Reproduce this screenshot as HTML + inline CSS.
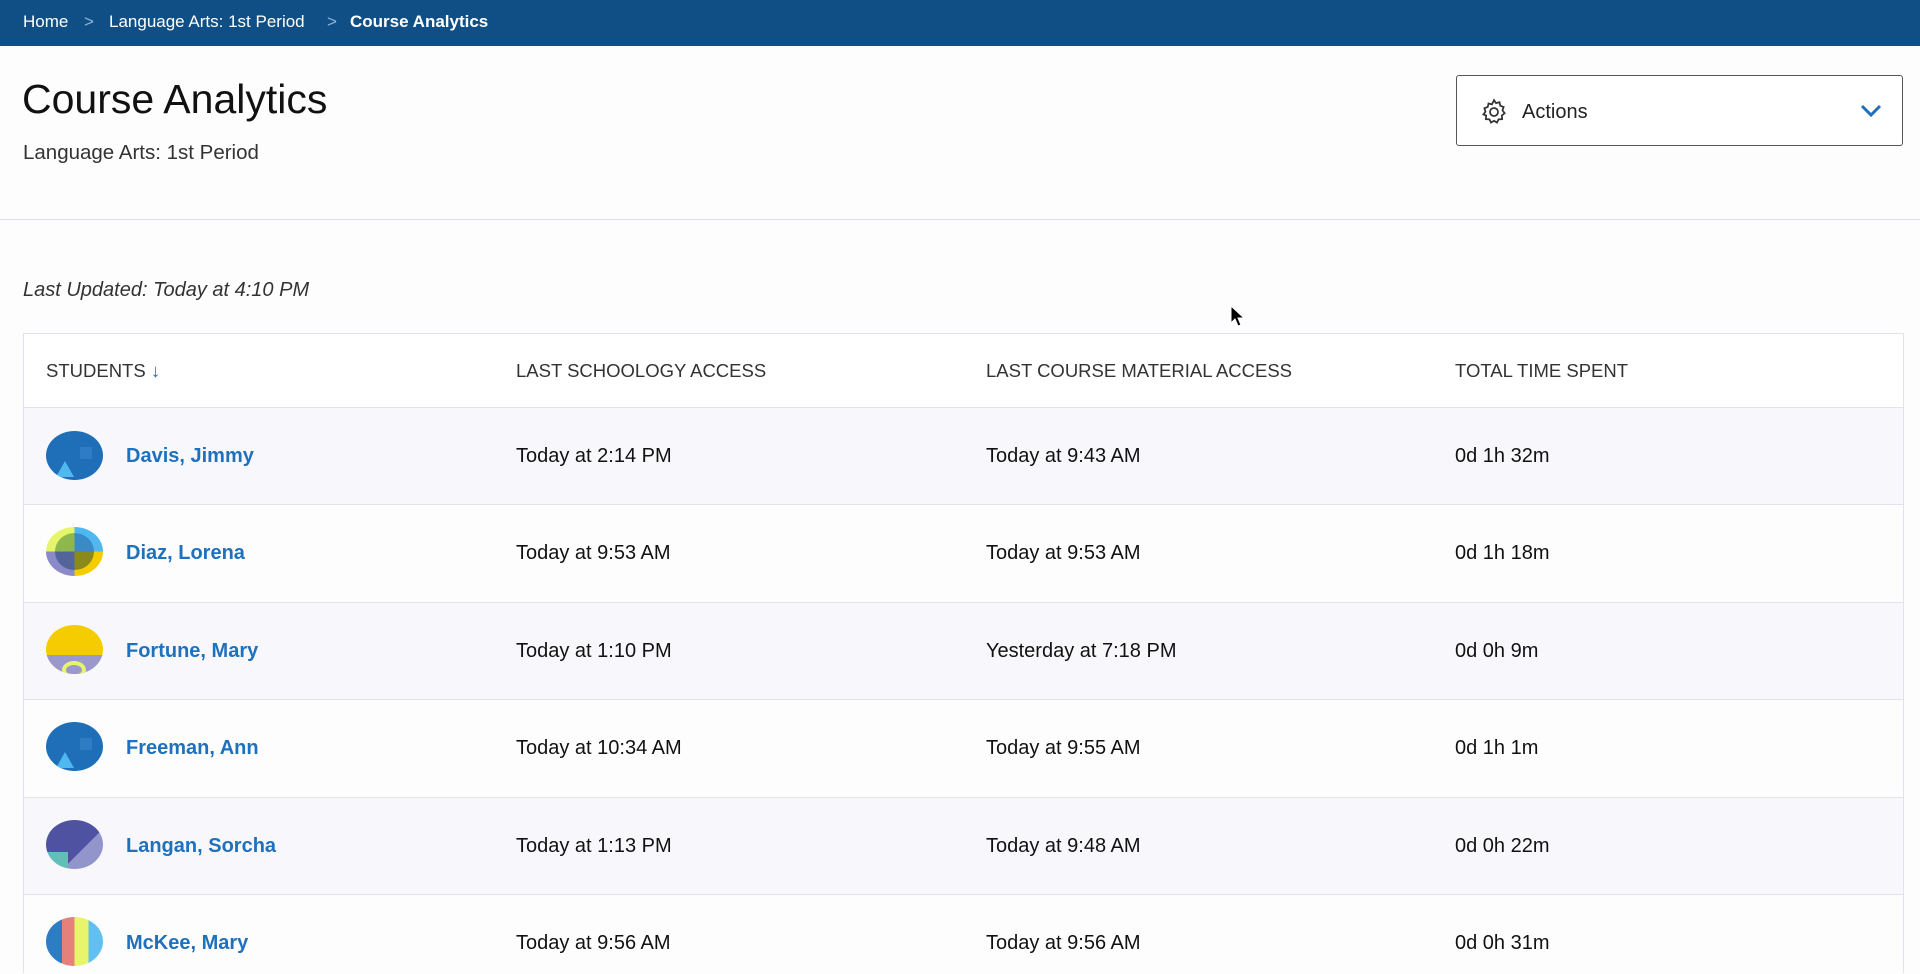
<!DOCTYPE html>
<html><head><meta charset="utf-8"><style>
*{margin:0;padding:0;box-sizing:border-box}
body{width:1920px;height:966px;overflow:hidden;background:#fdfdfd;font-family:"Liberation Sans",sans-serif;color:#222;position:relative}
.bc{position:absolute;left:0;top:0;width:1920px;height:46px;background:#104f85;color:#fff;font-size:17px}
.bc span{position:absolute;top:12px}
.abs{position:absolute;white-space:nowrap}
.tbl{position:absolute;left:23px;top:333px;width:1881px;height:640px;border:1px solid #e2e2ea;border-bottom:none}
.row{position:absolute;left:0;width:1879px;border-top:1px solid #e2e2ea}
.cell{position:absolute;font-size:20px;color:#111}
.hd{position:absolute;top:26px;font-size:18.5px;color:#333}
.name{position:absolute;left:102px;font-size:20px;font-weight:bold;color:#1f70bd}
.av{position:absolute;left:22px;width:57px;height:49px;border-radius:50%;overflow:hidden}
</style></head><body>
<div class="bc">
<span style="left:23px">Home</span>
<span style="left:84px;color:#8fb5dc">&gt;</span>
<span style="left:109px">Language Arts: 1st Period</span>
<span style="left:327px;color:#8fb5dc">&gt;</span>
<span style="left:350px;font-weight:bold">Course Analytics</span>
</div>
<div class="abs" style="left:22px;top:76px;font-size:41px;font-weight:300;color:#111">Course Analytics</div>
<div class="abs" style="left:23px;top:141px;font-size:20.5px;color:#333">Language Arts: 1st Period</div>
<div class="abs" style="left:1456px;top:75px;width:447px;height:71px;border:1px solid #555;border-radius:3px;background:#fff">
<svg style="position:absolute;left:22px;top:21px" width="30" height="30" viewBox="0 0 24 24" fill="none" stroke="#333" stroke-width="1.4"><circle cx="12" cy="12" r="3.2"/><path d="M12 2.5l1.6 2.4 2.8-.7.6 2.8 2.7 1-.9 2.7 1.7 2.3-2.2 1.8.2 2.9-2.9.2-1.2 2.6-2.4-1.5-2.4 1.5-1.2-2.6-2.9-.2.2-2.9L3.5 14l1.7-2.3-.9-2.7 2.7-1 .6-2.8 2.8.7z"/></svg>
<span style="position:absolute;left:65px;top:25px;font-size:20px;color:#222">Actions</span>
<svg style="position:absolute;left:402px;top:27px" width="24" height="16" viewBox="0 0 24 16"><path d="M3 3l9 9 9-9" fill="none" stroke="#1f70bd" stroke-width="3"/></svg>
</div>
<div class="abs" style="left:0;top:219px;width:1920px;height:1px;background:#dcdce4"></div>
<div class="abs" style="left:23px;top:279px;font-size:20px;font-style:italic;color:#333">Last Updated: Today at 4:10 PM</div>
<svg class="abs" style="left:1230px;top:305px" width="16" height="24" viewBox="0 0 16 24"><path d="M1 1v17l4-4 3 7 3-1-3-7h6z" fill="#000" stroke="#fff" stroke-width="1"/></svg>
<div class="tbl">
<div class="row" style="top:0;height:73px;border-top:none;background:#fff">
<span class="hd" style="left:22px">STUDENTS <span style="color:#1f70bd">&#8595;</span></span>
<span class="hd" style="left:492px">LAST SCHOOLOGY ACCESS</span>
<span class="hd" style="left:962px">LAST COURSE MATERIAL ACCESS</span>
<span class="hd" style="left:1431px">TOTAL TIME SPENT</span>
</div>
<div class="row" style="top:73px;height:97px;background:#f8f8fc">
<div class="av" style="top:23px;background:#1f6fb8"><div style="position:absolute;left:10px;top:30px;width:0;height:0;border-left:9px solid transparent;border-right:9px solid transparent;border-bottom:16px solid #4fb8f0"></div><div style="position:absolute;left:34px;top:16px;width:12px;height:12px;background:#2e7cc4"></div></div>
<span class="name" style="top:37px">Davis, Jimmy</span>
<span class="cell" style="left:492px;top:37px">Today at 2:14 PM</span>
<span class="cell" style="left:962px;top:37px">Today at 9:43 AM</span>
<span class="cell" style="left:1431px;top:37px">0d 1h 32m</span>
</div>
<div class="row" style="top:170px;height:98px;background:#fdfdfd">
<div class="av" style="top:22px;background:conic-gradient(#4fb8f0 0 25%,#f5cc00 25% 50%,#8a8ac8 50% 75%,#e6f56a 75%)"><div style="position:absolute;left:9px;top:6px;width:39px;height:37px;border-radius:50%;background:conic-gradient(#3a8ac8 0 25%,#8a8a1a 25% 50%,#52649a 50% 75%,#8eb84e 75%)"></div></div>
<span class="name" style="top:37px">Diaz, Lorena</span>
<span class="cell" style="left:492px;top:37px">Today at 9:53 AM</span>
<span class="cell" style="left:962px;top:37px">Today at 9:53 AM</span>
<span class="cell" style="left:1431px;top:37px">0d 1h 18m</span>
</div>
<div class="row" style="top:268px;height:97px;background:#f8f8fc">
<div class="av" style="top:22px;background:#f5cc00"><div style="position:absolute;left:0;top:30px;width:57px;height:30px;background:#9a98cc"></div><div style="position:absolute;left:16px;top:36px;width:24px;height:18px;border-radius:50%;border:4px solid #e6f56a"></div></div>
<span class="name" style="top:37px">Fortune, Mary</span>
<span class="cell" style="left:492px;top:37px">Today at 1:10 PM</span>
<span class="cell" style="left:962px;top:37px">Yesterday at 7:18 PM</span>
<span class="cell" style="left:1431px;top:37px">0d 0h 9m</span>
</div>
<div class="row" style="top:365px;height:98px;background:#fdfdfd">
<div class="av" style="top:22px;background:#1f6fb8"><div style="position:absolute;left:10px;top:30px;width:0;height:0;border-left:9px solid transparent;border-right:9px solid transparent;border-bottom:16px solid #4fb8f0"></div><div style="position:absolute;left:34px;top:16px;width:12px;height:12px;background:#2e7cc4"></div></div>
<span class="name" style="top:37px">Freeman, Ann</span>
<span class="cell" style="left:492px;top:37px">Today at 10:34 AM</span>
<span class="cell" style="left:962px;top:37px">Today at 9:55 AM</span>
<span class="cell" style="left:1431px;top:37px">0d 1h 1m</span>
</div>
<div class="row" style="top:463px;height:97px;background:#f8f8fc">
<div class="av" style="top:22px;background:linear-gradient(135deg,#4e52a0 62%,#9294cc 62%)"><div style="position:absolute;left:0;top:32px;width:22px;height:20px;background:#62bfb8"></div></div>
<span class="name" style="top:37px">Langan, Sorcha</span>
<span class="cell" style="left:492px;top:37px">Today at 1:13 PM</span>
<span class="cell" style="left:962px;top:37px">Today at 9:48 AM</span>
<span class="cell" style="left:1431px;top:37px">0d 0h 22m</span>
</div>
<div class="row" style="top:560px;height:80px;background:#fdfdfd">
<div class="av" style="top:22px;background:linear-gradient(90deg,#2e7cc4 0 28%,#e6807a 28% 50%,#e6f56a 50% 75%,#62c0f0 75%)"></div>
<span class="name" style="top:37px">McKee, Mary</span>
<span class="cell" style="left:492px;top:37px">Today at 9:56 AM</span>
<span class="cell" style="left:962px;top:37px">Today at 9:56 AM</span>
<span class="cell" style="left:1431px;top:37px">0d 0h 31m</span>
</div>
</div>
</body></html>
